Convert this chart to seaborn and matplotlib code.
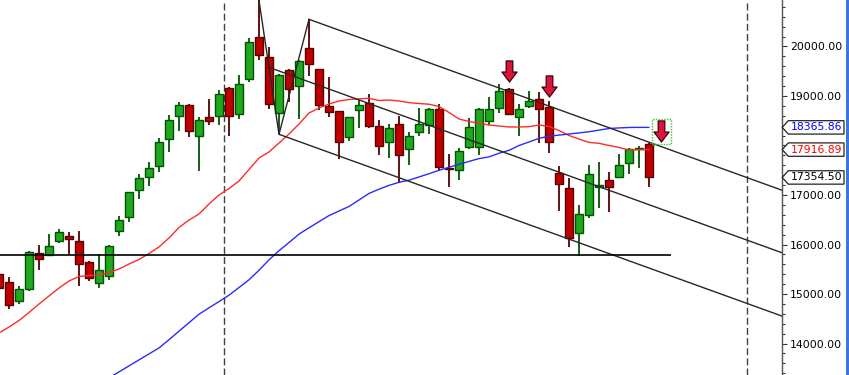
import numpy as np
import pandas as pd
import matplotlib
matplotlib.use("Agg")
import matplotlib.pyplot as plt
import seaborn as sns
from matplotlib.path import Path
from matplotlib.patches import Rectangle, Polygon
from matplotlib.transforms import blended_transform_factory

# ---------------- data ----------------
bar_index = list(range(66))
opens = [15404, 15237, 14853, 15095, 15828, 15794, 16077, 16166, 16071, 15647,
         15216, 15358, 16267, 16550, 17095, 17358, 17580, 18125, 18590, 18812,
         18186, 18570, 18590, 19155, 18630, 19337, 20186, 19788, 18650, 19525,
         19196, 19963, 19539, 18792, 18691, 18166, 18711, 18852, 18388, 18065,
         18434, 17923, 18267, 18408, 18731, 17551, 17499, 17964, 17970, 18489,
         18751, 19135, 18570, 18792, 18933, 18772, 17438, 17141, 16226, 16590,
         17168, 17303, 17370, 17646, 17923, 18036]
highs = [15485, 15338, 15156, 15869, 15990, 16212, 16313, 16253, 16273, 15660,
         15808, 15990, 16576, 17070, 17424, 17667, 18151, 18610, 18879, 18830,
         18570, 18939, 19121, 19182, 19424, 20165, 20930, 19990, 19440, 19545,
         19720, 20549, 19550, 19384, 18700, 18580, 18913, 19040, 18515, 18434,
         18596, 18267, 18757, 18750, 18838, 17828, 17949, 18549, 18757, 18974,
         19242, 19155, 18838, 19101, 19081, 18893, 17580, 17349, 16792, 17600,
         17667, 17465, 17828, 17949, 17990, 18045]
lows = [15040, 14703, 14804, 15067, 15491, 15780, 16036, 15794, 15168, 15269,
        15127, 15289, 16166, 16461, 16925, 17188, 17471, 17875, 18299, 18178,
        17491, 18420, 18420, 18198, 18529, 19289, 19727, 18743, 18226, 18873,
        18529, 19398, 18717, 18582, 17721, 18085, 18347, 18359, 17802, 17741,
        17248, 17596, 18198, 18226, 17485, 17168, 17297, 17935, 17814, 18408,
        18650, 18610, 18186, 18751, 18044, 17842, 16671, 15943, 15770, 16529,
        16743, 16651, 17349, 17430, 17551, 17168]
closes = [15121, 14772, 15095, 15843, 15713, 15970, 16253, 16117, 15612, 15317,
          15485, 15970, 16489, 17055, 17337, 17539, 18065, 18509, 18812, 18287,
          18509, 18489, 19034, 18590, 19236, 20085, 19822, 18832, 19424, 19135,
          19701, 19640, 18812, 18671, 18065, 18570, 18812, 18388, 17984, 18347,
          17802, 18186, 18434, 18737, 17560, 17519, 17883, 18368, 18731, 18731,
          19095, 18630, 18731, 18893, 18731, 18065, 17216, 16125, 16610, 17424,
          17196, 17156, 17600, 17923, 17943, 17354.50]

# red moving average (one reading per bar)
ma_fast = [14212, 14334, 14465, 14626, 14798, 14960, 15121, 15263, 15354, 15374,
           15384, 15434, 15505, 15606, 15697, 15818, 15950, 16131, 16343, 16495,
           16616, 16818, 17000, 17131, 17283, 17515, 17747, 17869, 18050, 18232,
           18434, 18656, 18757, 18838, 18899, 18929, 18943, 18953, 18909, 18919,
           18899, 18866, 18848, 18834, 18788, 18667, 18535, 18485, 18450, 18414,
           18394, 18374, 18374, 18380, 18414, 18384, 18303, 18202, 18131, 18063,
           18044, 18000, 17960, 17909, 17915, 17916.89]
# blue moving average, bars 11..65
ma_slow_index = list(range(11, 66))
ma_slow = [13303, 13427, 13548, 13669, 13790, 13911, 14077, 14249, 14420, 14592,
           14721, 14847, 14976, 15131, 15287, 15480, 15690, 15875, 16040, 16210,
           16337, 16461, 16584, 16677, 16768, 16899, 17032, 17117, 17194, 17257,
           17299, 17364, 17430, 17499, 17560, 17620, 17679, 17735, 17770, 17844,
           17903, 18000, 18071, 18145, 18188, 18210, 18232, 18254, 18277, 18311,
           18343, 18355, 18364, 18366, 18365.86]

# drawn objects: zigzag, channel, support, separators, signal arrows
zigzag_bars = [26, 28, 31]
channel_slope = -73.0            # price per bar
channel_upper = (31, 20549)
channel_mid = (27, 19578)
channel_lower = (28, 18226)
support_level = 15780
support_end = 67.2
separators = [22.53, 74.77]
arrow_index = [51, 55, 66.2]
arrow_center = [19495, 19202, 18283]
signal_box = (65.3, 18030, 1.9, 505)   # x, y, width, height

y_ticks = [14000, 15000, 16000, 17000, 18000, 19000, 20000]
y_tick_labels = ["14000.00", "15000.00", "16000.00", "17000.00", "", "19000.00", "20000.00"]

# ---------------- style ----------------
sns.set_style("white")
plt.rcParams["font.family"] = ["DejaVu Sans"]

GREEN, GREEN_EDGE = "#20a820", "#005400"
RED, RED_EDGE = "#c00000", "#560000"
FS = 7.8

fig = plt.figure(figsize=(8.49, 3.75), dpi=100)
ax_w = 781.7 / 849
ax = fig.add_axes([0, 0, ax_w, 1])
ax.set_xlim(0.1, 78.27)
ax.set_ylim(13364, 20939)

df = pd.DataFrame({"idx": bar_index, "open": opens, "high": highs,
                   "low": lows, "close": closes})
up = df["close"] >= df["open"]

for mask, fill, edge in [(up, GREEN, GREEN_EDGE), (~up, RED, RED_EDGE)]:
    d = df[mask]
    ax.vlines(d["idx"], d["low"], d["high"], color=edge, lw=1.3, zorder=2)
    body_lo = np.minimum(d["open"], d["close"])
    body_h = np.maximum(np.abs(d["close"] - d["open"]), 22)
    ax.bar(d["idx"], body_h, bottom=body_lo, width=0.76, color=fill,
           edgecolor=edge, linewidth=1.0, zorder=3)

# moving averages via seaborn
fast_df = pd.DataFrame({"idx": bar_index, "v": ma_fast})
slow_df = pd.DataFrame({"idx": ma_slow_index, "v": ma_slow})
sns.lineplot(data=fast_df, x="idx", y="v", color="#ff2a2a", lw=1.0, ax=ax, zorder=5)
sns.lineplot(data=slow_df, x="idx", y="v", color="#2a2aff", lw=1.0, ax=ax, zorder=5)

# zigzag through swing high / low / high
ax.plot(zigzag_bars, [highs[26], lows[28], highs[31]], color="#262626", lw=1.0, zorder=6)
# channel lines
xr = 80
for (x0, y0) in [channel_upper, channel_mid, channel_lower]:
    ax.plot([x0, xr], [y0, y0 + channel_slope * (xr - x0)], color="#262626", lw=1.0, zorder=6)
# support line
ax.hlines(support_level, -1, support_end, color="black", lw=1.2, zorder=6)
# separators
for sx in separators:
    ax.axvline(sx, color="#404040", lw=1.0, dashes=(5, 2.3), zorder=1)

# signal arrows
arrow_path = Path([(-0.314, 1), (0.314, 1), (0.314, -0.05), (0.714, -0.05),
                   (0, -1), (-0.714, -0.05), (-0.314, -0.05), (-0.314, 1)],
                  [Path.MOVETO] + [Path.LINETO] * 6 + [Path.CLOSEPOLY])
ax.plot(arrow_index, arrow_center, ls="none", marker=arrow_path, markersize=15.2,
        markerfacecolor="#dc143c", markeredgecolor="#3a0010", markeredgewidth=0.9, zorder=8)
ax.add_patch(Rectangle(signal_box[:2], signal_box[2], signal_box[3], fill=False,
                       ec="#33cc33", ls=(0, (1, 1)), lw=1.0, zorder=7))

# axes styling
for s in ["top", "left", "bottom"]:
    ax.spines[s].set_visible(False)
ax.spines["right"].set_color("#555555")
ax.spines["right"].set_linewidth(1.0)
ax.set_xticks([])
ax.set_xlabel("")
ax.set_ylabel("")
ax.yaxis.tick_right()
ax.set_yticks(y_ticks)
ax.set_yticklabels(y_tick_labels)
ax.set_yticks(np.arange(13400, 20901, 200), minor=True)
ax.tick_params(axis="y", which="major", direction="out", length=3.6, width=0.8,
               color="#333333", pad=2.4, labelsize=FS, labelcolor="black")
ax.tick_params(axis="y", which="minor", direction="out", length=2.2, width=0.8,
               color="#333333", right=True, left=False)
ax.grid(False)

# last-value tags
trans = blended_transform_factory(ax.transAxes, ax.transData)
ppx = 1 / 781.7
half = 6.7 * (20939 - 13364) / 375
for val, col in [(ma_slow[-1], "#0000ff"), (ma_fast[-1], "#ff0000"), (closes[-1], "black")]:
    poly = Polygon([(1 + 0.5 * ppx, val), (1 + 6.6 * ppx, val + half),
                    (1 + 62.3 * ppx, val + half), (1 + 62.3 * ppx, val - half),
                    (1 + 6.6 * ppx, val - half)], closed=True, transform=trans,
                   fc="white", ec="#222222", lw=0.9, clip_on=False, zorder=20)
    ax.add_patch(poly)
    ax.text(1 + 9 * ppx, val, f"{val:.2f}", transform=trans, color=col, fontsize=FS,
            va="center", ha="left", clip_on=False, zorder=21)

# right edge bar
fig.add_artist(Rectangle((845.5 / 849, 0), 3.5 / 849, 1, transform=fig.transFigure,
                         fc="#3a78d8", ec="none"))

fig.savefig("out.png", dpi=100)
